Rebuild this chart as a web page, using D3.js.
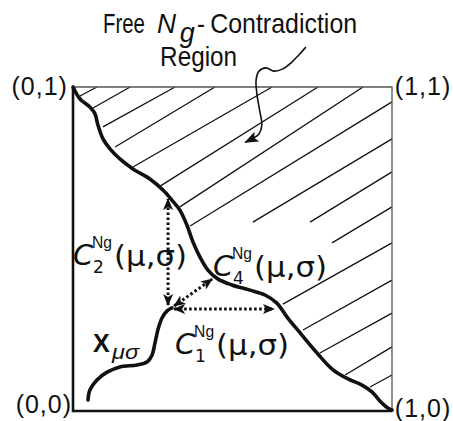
<!DOCTYPE html>
<html>
<head>
<meta charset="utf-8">
<script src="https://cdn.jsdelivr.net/npm/d3@7"></script>
<style>
  body { margin: 0; background: #fff; }
  svg { display: block; }
  text { font-family: "Liberation Sans", Arial, sans-serif; fill: #111; }
  .clab { font-family: "DejaVu Sans", sans-serif; }
</style>
</head>
<body>
<div id="chart"></div>
<script>
// diagram values, all in unit-square coordinates (0..1)
var boundary = [[0,1],[0.022,0.963],[0.053,0.938],[0.069,0.917],[0.078,0.883],[0.094,0.840],
  [0.116,0.809],[0.147,0.778],[0.188,0.747],[0.241,0.716],[0.282,0.682],[0.310,0.651],
  [0.335,0.620],[0.357,0.574],[0.376,0.522],[0.398,0.475],[0.423,0.435],[0.455,0.407],
  [0.498,0.389],[0.555,0.373],[0.602,0.358],[0.639,0.333],[0.671,0.290],[0.712,0.241],
  [0.765,0.179],[0.815,0.127],[0.862,0.099],[0.906,0.080],[0.937,0.059],[0.962,0.031],
  [0.987,0.009],[1,0.003]];

var xCurve = [[0.047,0.034],[0.053,0.065],[0.075,0.096],[0.107,0.120],[0.147,0.136],
  [0.201,0.142],[0.232,0.151],[0.248,0.173],[0.257,0.210],[0.266,0.250],[0.279,0.287],
  [0.295,0.309],[0.310,0.318]];

var hatches = [
  [[0.016,0.969],[0.075,1]], [[0.063,0.935],[0.179,1]], [[0.094,0.877],[0.320,1]],
  [[0.132,0.815],[0.445,1]], [[0.188,0.753],[0.624,1]], [[0.273,0.694],[0.768,1]],
  [[0.335,0.630],[0.909,1]], [[0.367,0.571],[1,0.954]], [[0.564,0.583],[1,0.840]],
  [[0.743,0.583],[1,0.738]], [[0.812,0.519],[1,0.630]], [[0.658,0.330],[1,0.519]],
  [[0.721,0.250],[1,0.404]], [[0.774,0.179],[1,0.302]], [[0.853,0.111],[1,0.198]],
  [[0.931,0.074],[1,0.111]]];

var distArrows = [
  [[0.298,0.327],[0.298,0.654]],   // C2
  [[0.317,0.324],[0.436,0.407]],   // C4
  [[0.317,0.315],[0.630,0.315]]];  // C1

var pointer = [[0.730,1.123],[0.708,1.099],[0.683,1.074],[0.658,1.056],[0.630,1.049],
  [0.605,1.059],[0.583,1.049],[0.574,1.022],[0.577,0.975],[0.586,0.923],[0.592,0.883],
  [0.583,0.855],[0.561,0.840],[0.540,0.829]];

var cornerNames = ["(0,1)", "(1,1)", "(0,0)", "(1,0)"];
var cornerPos = [[-0.016,0.975,"end"],[1.009,0.975,"start"],[-0.003,-0.006,"end"],[1.009,-0.019,"start"]];

var cNames = ["2", "4", "1"];
var cPos = [[0.0,0.451],[0.439,0.417],[0.320,0.176]];

var width = 453, height = 421;

var svg = d3.select("#chart").append("svg")
    .attr("width", width)
    .attr("height", height);

var x = d3.scaleLinear().domain([0,1]).range([73,392]);
var y = d3.scaleLinear().domain([0,1]).range([411,87]);

var defs = svg.append("defs");
defs.append("marker")
    .attr("id", "head")
    .attr("viewBox", "0 0 12 10")
    .attr("refX", 11).attr("refY", 5)
    .attr("markerWidth", 12).attr("markerHeight", 10)
    .attr("markerUnits", "userSpaceOnUse")
    .attr("orient", "auto-start-reverse")
  .append("path")
    .attr("d", "M0,0 L12,5 L0,10 L3,5 Z")
    .attr("fill", "#111");
defs.append("marker")
    .attr("id", "bighead")
    .attr("viewBox", "0 0 14 11")
    .attr("refX", 13).attr("refY", 5.5)
    .attr("markerWidth", 14).attr("markerHeight", 11)
    .attr("markerUnits", "userSpaceOnUse")
    .attr("orient", "auto")
  .append("path")
    .attr("d", "M0,0 L14,5.5 L0,11 L3,5.5 Z")
    .attr("fill", "#111");

var line = d3.line()
    .x(function(d) { return x(d[0]); })
    .y(function(d) { return y(d[1]); })
    .curve(d3.curveCatmullRom.alpha(0.5));
var straight = d3.line()
    .x(function(d) { return x(d[0]); })
    .y(function(d) { return y(d[1]); });

// hatching
svg.selectAll(".hatch")
    .data(hatches)
  .enter().append("path")
    .attr("class", "hatch")
    .attr("d", straight)
    .attr("fill", "none")
    .attr("stroke", "#111")
    .attr("stroke-width", 1.3);

// frame: thin top/right, heavy left/bottom
svg.append("path")
    .attr("d", straight([[0,1],[1,1],[1,0]]))
    .attr("fill", "none").attr("stroke", "#555").attr("stroke-width", 1.3);
svg.append("path")
    .attr("d", straight([[0,1],[0,0],[1,0]]))
    .attr("fill", "none").attr("stroke", "#111").attr("stroke-width", 2.6);

// boundary of contradiction region
svg.append("path")
    .attr("d", line(boundary))
    .attr("fill", "none").attr("stroke", "#111").attr("stroke-width", 3.6)
    .attr("stroke-linecap", "round");

// X_mu sigma
svg.append("path")
    .attr("d", line(xCurve))
    .attr("fill", "none").attr("stroke", "#111").attr("stroke-width", 3.6)
    .attr("stroke-linecap", "round");

// dotted distance arrows
svg.selectAll(".dist")
    .data(distArrows)
  .enter().append("path")
    .attr("class", "dist")
    .attr("d", straight)
    .attr("fill", "none")
    .attr("stroke", "#111")
    .attr("stroke-width", 3)
    .attr("stroke-dasharray", "2.6,2.4")
    .attr("marker-start", "url(#head)")
    .attr("marker-end", "url(#head)");

// pointer from the title
svg.append("path")
    .attr("d", line(pointer))
    .attr("fill", "none").attr("stroke", "#111").attr("stroke-width", 1.6)
    .attr("marker-end", "url(#bighead)");

// title
function txt(u, v, s, size) {
  return svg.append("text").attr("x", x(u)).attr("y", y(v)).attr("font-size", size).text(s);
}
txt(0.094, 1.167, "Free", 28).attr("textLength", 42).attr("lengthAdjust", "spacingAndGlyphs");
txt(0.263, 1.167, "N", 27).attr("font-style", "italic").attr("textLength", 19).attr("lengthAdjust", "spacingAndGlyphs");
txt(0.335, 1.140, "g", 27).attr("font-style", "italic").attr("textLength", 15).attr("lengthAdjust", "spacingAndGlyphs");
txt(0.389, 1.167, "-", 28).attr("textLength", 8).attr("lengthAdjust", "spacingAndGlyphs");
txt(0.430, 1.167, "Contradiction", 28).attr("textLength", 147).attr("lengthAdjust", "spacingAndGlyphs");
txt(0.273, 1.065, "Region", 27).attr("textLength", 77).attr("lengthAdjust", "spacingAndGlyphs");

// corner labels
svg.selectAll(".corner")
    .data(cornerNames)
  .enter().append("text")
    .attr("class", "corner")
    .attr("x", function(d, i) { return x(cornerPos[i][0]); })
    .attr("y", function(d, i) { return y(cornerPos[i][1]); })
    .attr("text-anchor", function(d, i) { return cornerPos[i][2]; })
    .attr("font-size", 25)
    .attr("letter-spacing", 1)
    .text(function(d) { return d; });

// C_k^Ng(mu,sigma) labels
cNames.forEach(function(k, i) {
  var px = x(cPos[i][0]), py = y(cPos[i][1]);
  var g = svg.append("g").attr("class", "clab").attr("transform", "translate(" + px + "," + py + ")");
  g.append("text").attr("class", "clab").attr("font-size", 29).attr("font-style", "italic").text("C");
  g.append("text").attr("class", "clab").attr("x", 20).attr("y", 8).attr("font-size", 17).text(k);
  g.append("text").attr("x", 19).attr("y", -17).attr("font-size", 16)
      .attr("textLength", 20).attr("lengthAdjust", "spacingAndGlyphs").text("Ng");
  g.append("text").attr("class", "clab").attr("x", 41).attr("y", 1).attr("font-size", 28)
      .attr("textLength", 73).attr("lengthAdjust", "spacingAndGlyphs").text("(μ,σ)");
});

// X_mu sigma label
var xl = svg.append("g").attr("transform", "translate(" + x(0.063) + "," + y(0.182) + ")");
xl.append("text").attr("font-size", 25).attr("font-weight", "bold").text("X");
xl.append("text").attr("x", 19).attr("y", 7).attr("font-size", 20).attr("font-style", "italic")
    .attr("textLength", 27).attr("lengthAdjust", "spacingAndGlyphs").text("μσ");
</script>
</body>
</html>
